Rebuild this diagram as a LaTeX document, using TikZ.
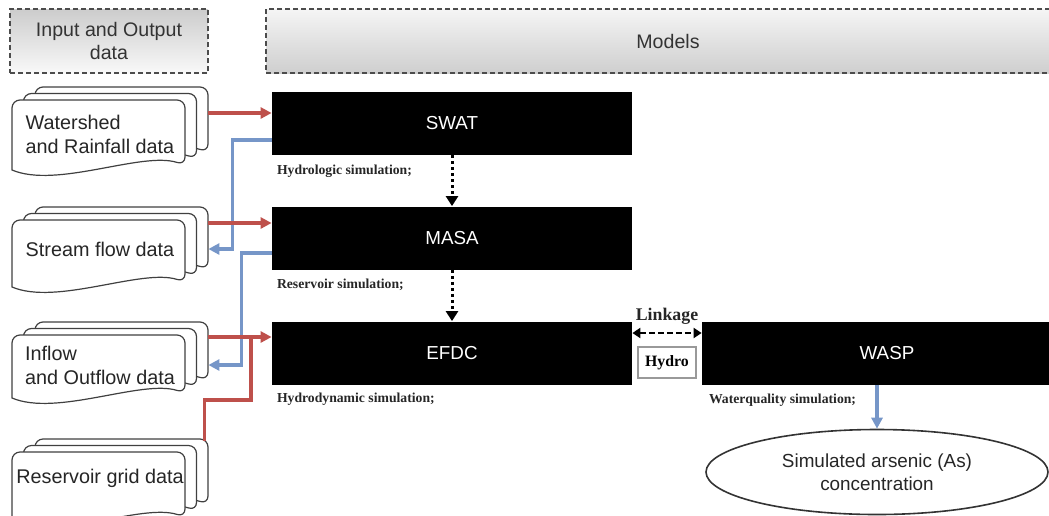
\documentclass[tikz,border=0pt]{standalone}
\usepackage{fontspec}
\setmainfont{Liberation Sans}
\newfontfamily\labelfont{Liberation Serif}
\usetikzlibrary{arrows.meta,positioning,shapes.geometric,calc}
\definecolor{feedred}{RGB}{190,80,75}
\definecolor{backblue}{RGB}{118,150,200}

\begin{document}
\begin{tikzpicture}[
    x=0.5pt, y=-0.5pt,
    >={Triangle[length=5.5pt,width=5.5pt]},
    header/.style={
        rectangle,
        draw=black!70,
        line width=1.2pt,
        dash pattern=on 2.5pt off 1.5pt,
        minimum height=32pt,
        align=center,
        text=black!80,
        font=\fontsize{9.8}{11.5}\selectfont
    },
    model/.style={
        rectangle,
        fill=black,
        text=white,
        minimum width=180pt,
        minimum height=31.5pt,
        font=\fontsize{9.4}{11}\selectfont
    },
    datatext/.style={
        rectangle,
        minimum width=92.5pt,
        minimum height=35pt,
        align=left,
        text=black!85,
        font=\fontsize{9.9}{12}\selectfont
    },
    simlabel/.style={
        inner sep=0pt,
        text=black!85,
        font=\labelfont\bfseries\fontsize{6.85}{8}\selectfont
    },
    sheet/.style={
        draw=black!75,
        fill=white,
        line width=0.6pt
    },
    datastack/.pic={
        \foreach \sh in {2,1,0}
            \path[sheet, shift={(11.5*\sh,-6.5*\sh)}]
                (0,#1) [rounded corners=4pt] -- (0,0) -- (173,0) -- (173,#1-5)
                [sharp corners] .. controls (130,#1-19) and (45,#1+19) .. (0,#1) -- cycle;
    },
    feedarrow/.style={->, feedred, line width=1.6pt},
    feedline/.style={feedred, line width=1.6pt},
    backarrow/.style={->, backblue, line width=1.6pt},
    flowarrow/.style={
        ->,
        >={Triangle[length=5pt,width=6pt]},
        line width=1.5pt,
        dash pattern=on 1.5pt off 1.5pt
    },
    linkarrow/.style={
        <->,
        >={Triangle[length=4pt,width=5pt]},
        line width=1.3pt,
        dash pattern=on 3pt off 1.5pt
    }
]
\path[use as bounding box, clip] (0,0) rectangle (1049,515);

% Headers
\node[header, top color=gray!40, bottom color=gray!5, minimum width=99pt] (iohead) at (109,41) {Input and Output\\data};
\node[header, top color=gray!8, bottom color=gray!38, minimum width=402pt] (modhead) at (668,41) {Models};

% Models
\node[model] (swat) at (452,123.5) {SWAT};
\node[model] (masa) at (452,238) {MASA};
\node[model] (efdc) at (452,353) {EFDC};
\node[model, minimum width=185pt] (wasp) at (887,353) {WASP};

% Simulation labels
\node[simlabel, below right=4.5pt and 2.5pt of swat.south west] (swatlbl) {Hydrologic simulation;};
\node[simlabel, below right=4.5pt and 2.5pt of masa.south west] (masalbl) {Reservoir simulation;};
\node[simlabel, below right=4pt and 2.5pt of efdc.south west] (efdclbl) {Hydrodynamic simulation;};
\node[simlabel, below right=4.5pt and 3.5pt of wasp.south west] (wasplbl) {Waterquality simulation;};

% Data sheets
\pic (wssheet) at (12,100) {datastack=70};
\node[datatext] (wsdata) at (100,134) {Watershed\\and Rainfall data};
\pic (sfsheet) at (12,220) {datastack=67};
\node[datatext] (sfdata) at (100,249) {Stream flow data};
\pic (iosheet) at (12,335) {datastack=63};
\node[datatext] (iodata) at (100,365) {Inflow\\and Outflow data};
\pic (rgsheet) at (12,452) {datastack=70};
\node[datatext] (rgdata) at (100,478.5) {Reservoir grid data};

% Output
\node[ellipse, draw=black!80, line width=0.8pt, minimum width=171pt, minimum height=42.5pt, inner sep=0pt,
      align=center, text=black!85, font=\fontsize{9.45}{11.5}\selectfont] (simas) at (877,472)
      {Simulated arsenic (As)\\concentration};
\node[draw=gray!80, line width=0.7pt, fill=white, minimum width=29pt, minimum height=15.5pt, inner sep=0pt,
      font=\labelfont\bfseries\fontsize{7.9}{9}\selectfont] (hydro) at (667,362.5) {Hydro};

% Ports
\coordinate (wsout) at ([xshift=7.75pt,yshift=10.5pt]wsdata.east);
\coordinate (sfout) at ([xshift=7.75pt,yshift=13pt]sfdata.east);
\coordinate (sfin) at ([xshift=7.75pt]sfdata.east);
\coordinate (ioout) at ([xshift=7.75pt,yshift=14pt]iodata.east);
\coordinate (ioin) at ([xshift=7.75pt]iodata.east);
\coordinate (rgout) at ([xshift=5.75pt,yshift=18.75pt]rgdata.east);
\coordinate (swatout) at ([yshift=-8.25pt]swat.west);
\coordinate (masaout) at ([yshift=-7.5pt]masa.west);

% Outputs back to data
\draw[backarrow] (swatout) -- ++(-39,0) |- (sfin);
\draw[backarrow] (masaout) -- ++(-30,0) |- (ioin);

% Inputs to models
\draw[feedarrow] (wsout) -- (wsout -| swat.west);
\draw[feedarrow] (sfout) -- (sfout -| masa.west);
\draw[feedarrow] (ioout) -- (ioout -| efdc.west);
\draw[feedline] (rgout) -- ++(0,-41) -| ($(ioout)!0.675!(ioout -| efdc.west)$);

% Model chain
\draw[flowarrow] (swat) -- (masa);
\draw[flowarrow] (masa) -- (efdc);
\draw[linkarrow] ([yshift=10pt]efdc.east) -- node[above=3.5pt, inner sep=0pt, text=black!85,
      font=\labelfont\bfseries\fontsize{8.9}{10}\selectfont] (linklbl) {Linkage} ([yshift=10pt]wasp.west);
\draw[backarrow] (wasp.south -| simas.north) -- (simas.north);

\end{tikzpicture}
\end{document}
